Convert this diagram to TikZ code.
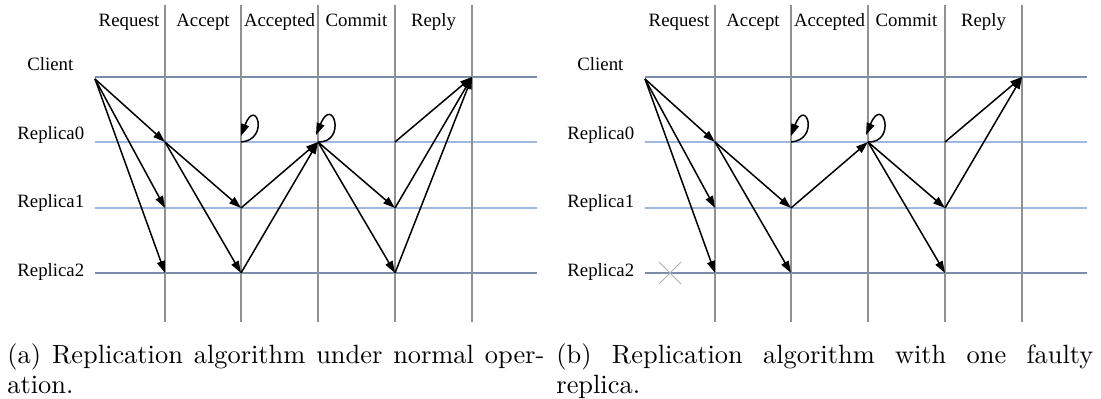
\documentclass[tikz,border=0pt]{standalone}
\usepackage{fontspec}
\newfontfamily\figfont{Liberation Serif}
\newfontfamily\capfont{lmroman10-regular.otf}
\usetikzlibrary{arrows.meta,calc}
\definecolor{lanedark}{RGB}{122,142,172}
\definecolor{lanelight}{RGB}{158,184,226}
\definecolor{phasegray}{RGB}{145,145,145}
\definecolor{faultgray}{RGB}{175,175,175}
\tikzset{
  lane/.style={line width=0.55pt},
  phase/.style={phasegray,line width=0.55pt},
  msg/.style={line width=0.75pt,-{Triangle[length=6pt,width=4pt]}},
  lbl/.style={font=\figfont\fontsize{9.4}{11}\selectfont,inner sep=0pt},
  subcap/.style={inner sep=0pt,anchor=north west,text width=268.5pt,align=justify,
    font=\capfont\fontsize{13.2}{15}\selectfont}
}
\begin{document}
\begin{tikzpicture}[x=0.5pt,y=-0.5pt]
\useasboundingbox (0,0) rectangle (1101,399);
% the same grid for both panels
\foreach \p/\s in {a/0,b/550}{
  % lanes
  \draw[lane,lanedark] (95+\s,77) -- (537+\s,77);
  \draw[lane,lanelight] (95+\s,142) -- (537+\s,142);
  \draw[lane,lanelight] (95+\s,208) -- (537+\s,208);
  \draw[lane,lanedark] (95+\s,273) -- (537+\s,273);
  % phase borders
  \foreach \x in {165,241,318,395,472}
    \draw[phase] (\x+\s,5) -- (\x+\s,322);
  % points where lanes and borders cross
  \coordinate (\p c) at (95+\s,79);
  \foreach \col/\x in {1/165,2/241,3/318,4/395,5/472}
    \foreach \row/\y in {c/77,0/142,1/208,2/273}
      \coordinate (\p\row\col) at (\x+\s,\y);
  % phase names
  \foreach \n/\x/\t in {req/129/Request,acc/203/Accept,acd/279.5/Accepted,com/356.5/Commit,rep/433.5/Reply}
    \node[lbl,anchor=base] (\p\n) at (\x+\s,27) {\t};
  % lane names
  \node[lbl,anchor=base west] (\p client) at (27+\s,71) {Client};
  \node[lbl,anchor=base west] (\p rep0) at (17+\s,140) {Replica0};
  \node[lbl,anchor=base west] (\p rep1) at (17+\s,208) {Replica1};
  \node[lbl,anchor=base west] (\p rep2) at (17+\s,277) {Replica2};
}
% (a) normal operation
\draw[msg] (ac) -- (a01);
\draw[msg] (ac) -- (a11);
\draw[msg] (ac) -- (a21);
\draw[msg] (a01) -- (a12);
\draw[msg] (a01) -- (a22);
\draw[msg] (a02) .. controls +(29,-2) and +(15,-40) .. ($(a02)+(0,-6)$);
\draw[msg] (a12) -- (a03);
\draw[msg] (a22) -- (a03);
\draw[msg] (a03) .. controls +(29,1) and +(17,-41) .. ($(a03)+(-2,-7)$);
\draw[msg] (a03) -- (a14);
\draw[msg] (a03) -- (a24);
\draw[msg] (a04) -- (ac5);
\draw[msg] (a14) -- (ac5);
\draw[msg] (a24) -- (ac5);
% (b) Replica2 is down
\draw[faultgray,line width=0.5pt] ($(b21)+(-45,0)$) +(-11,-11) -- +(11,11) +(-11,11) -- +(11,-11);
\draw[msg] (bc) -- (b01);
\draw[msg] (bc) -- (b11);
\draw[msg] (bc) -- (b21);
\draw[msg] (b01) -- (b12);
\draw[msg] (b01) -- (b22);
\draw[msg] (b02) .. controls +(29,-2) and +(15,-40) .. ($(b02)+(0,-6)$);
\draw[msg] (b12) -- (b03);
\draw[msg] (b03) .. controls +(29,1) and +(17,-41) .. ($(b03)+(-2,-7)$);
\draw[msg] (b03) -- (b14);
\draw[msg] (b03) -- (b24);
\draw[msg] (b04) -- (bc5);
\draw[msg] (b14) -- (bc5);
% captions
\node[subcap] (capa) at (7,343) {(a) Replication algorithm under normal oper-\linebreak ation.};
\node[subcap] (capb) at (556,343) {(b) Replication algorithm with one faulty\linebreak replica.};
\end{tikzpicture}
\end{document}
